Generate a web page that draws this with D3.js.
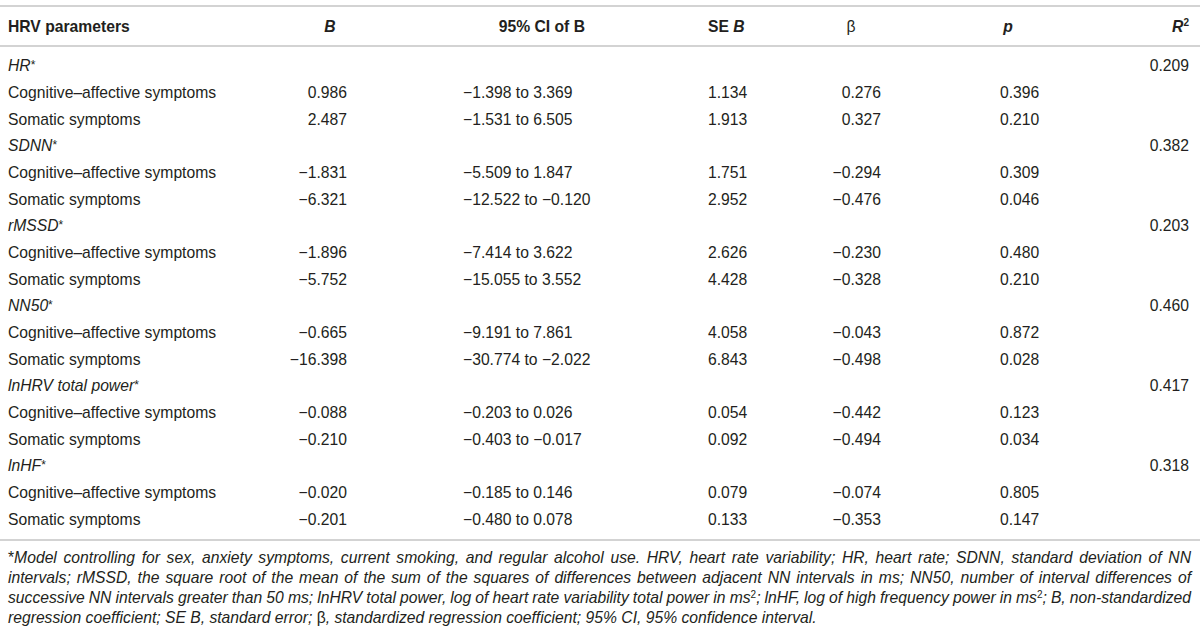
<!DOCTYPE html>
<html>
<head>
<meta charset="utf-8">
<script src="https://cdn.jsdelivr.net/npm/d3@7"></script>
<style>
  body { margin: 0; background: #fff; }
  svg text { font-family: "Liberation Sans", Arial, sans-serif; fill: #231f20; }
  .hdr { font-weight: bold; }
  .cell { font-size: 15.7px; }
  .note { font-size: 15.7px; font-style: italic; }
</style>
</head>
<body>
<div class="table-container"></div>
<script>
// table data
const groups = ['HR', 'SDNN', 'rMSSD', 'NN50', 'lnHRV total power', 'lnHF'];
const r2 = ['0.209', '0.382', '0.203', '0.460', '0.417', '0.318'];
const predictors = ['Cognitive–affective symptoms', 'Somatic symptoms'];
const bVals = ['0.986', '2.487', '−1.831', '−6.321', '−1.896', '−5.752', '−0.665', '−16.398', '−0.088', '−0.210', '−0.020', '−0.201'];
const ciLow = ['−1.398', '−1.531', '−5.509', '−12.522', '−7.414', '−15.055', '−9.191', '−30.774', '−0.203', '−0.403', '−0.185', '−0.480'];
const ciHigh = ['3.369', '6.505', '1.847', '−0.120', '3.622', '3.552', '7.861', '−2.022', '0.026', '−0.017', '0.146', '0.078'];
const seB = ['1.134', '1.913', '1.751', '2.952', '2.626', '4.428', '4.058', '6.843', '0.054', '0.092', '0.079', '0.133'];
const betaVals = ['0.276', '0.327', '−0.294', '−0.476', '−0.230', '−0.328', '−0.043', '−0.498', '−0.442', '−0.494', '−0.074', '−0.353'];
const pVals = ['0.396', '0.210', '0.309', '0.046', '0.480', '0.210', '0.872', '0.028', '0.123', '0.034', '0.805', '0.147'];
const noteLines = [
  [{t: '*', it: false}, {t: 'Model controlling for sex, anxiety symptoms, current smoking, and regular alcohol use. HRV, heart rate variability; HR, heart rate; SDNN, standard deviation of NN'}],
  [{t: 'intervals; rMSSD, the square root of the mean of the sum of the squares of differences between adjacent NN intervals in ms; NN50, number of interval differences of'}],
  [{t: 'successive NN intervals greater than 50 ms; lnHRV total power, log of heart rate variability total power in ms'}, {t: '2', sup: true}, {t: '; lnHF, log of high frequency power in ms'}, {t: '2', sup: true}, {t: '; B, non-standardized'}],
  [{t: 'regression coefficient; SE B, standard error; '}, {t: 'β', it: false}, {t: ', standardized regression coefficient; 95% CI, 95% confidence interval.'}]
];

// build row list: group header row followed by its two predictor rows
const rows = [];
groups.forEach((g, gi) => {
  rows.push({type: 'group', label: g, r2: r2[gi]});
  predictors.forEach((p, pi) => {
    const k = gi * 2 + pi;
    rows.push({type: 'item', label: p, b: bVals[k], ci: `${ciLow[k]} to ${ciHigh[k]}`,
      se: seB[k], beta: betaVals[k], p: pVals[k]});
  });
});

const svg_width = 1200, svg_height = 634;
const svg = d3.select('.table-container').append('svg')
  .attr('width', svg_width).attr('height', svg_height);

const yScale = d3.scaleBand().domain(d3.range(rows.length)).range([53, 533]);
const yc = i => yScale(i) + yScale.bandwidth() / 2;

// column anchors
const cols = [
  {key: 'label', x: 8, anchor: 'start'},
  {key: 'b', x: 347, anchor: 'end'},
  {key: 'ci', x: 463, anchor: 'start'},
  {key: 'se', x: 708, anchor: 'start'},
  {key: 'beta', x: 881, anchor: 'end'},
  {key: 'p', x: 1000, anchor: 'start'},
  {key: 'r2', x: 1189, anchor: 'end'}
];
const colX = d3.scaleOrdinal().domain(cols.map(c => c.key)).range(cols.map(c => c.x));
const colA = d3.scaleOrdinal().domain(cols.map(c => c.key)).range(cols.map(c => c.anchor));

// rules
const rule = y => svg.append('line').attr('x1', 0).attr('x2', svg_width)
  .attr('y1', y).attr('y2', y).attr('stroke', '#c4c4c4').attr('stroke-width', 1.6);
rule(6); rule(46); rule(540);

// header
const hy = 32;
const hdr = svg.append('g').attr('class', 'hdr cell');
hdr.append('text').attr('x', 8).attr('y', hy).text('HRV parameters');
hdr.append('text').attr('x', 330).attr('y', hy).attr('text-anchor', 'middle').style('font-style', 'italic').text('B');
hdr.append('text').attr('x', 585).attr('y', hy).attr('text-anchor', 'end').text('95% CI of B');
const seh = hdr.append('text').attr('x', 708).attr('y', hy);
seh.append('tspan').text('SE ');
seh.append('tspan').style('font-style', 'italic').text('B');
hdr.append('text').attr('x', 851).attr('y', hy).attr('text-anchor', 'middle').style('font-weight', 'normal').text('β');
hdr.append('text').attr('x', 1008).attr('y', hy).attr('text-anchor', 'middle').style('font-style', 'italic').text('p');
const r2h = hdr.append('text').attr('x', 1189).attr('y', hy).attr('text-anchor', 'end');
r2h.append('tspan').style('font-style', 'italic').text('R');
r2h.append('tspan').attr('dy', -6).style('font-size', '10px').text('2');

// body
const body = svg.append('g').attr('class', 'cell');
rows.forEach((r, i) => {
  const y = yc(i) + 5;
  if (r.type === 'group') {
    const t = body.append('text').attr('x', colX('label')).attr('y', y);
    t.append('tspan').style('font-style', 'italic').text(r.label);
    t.append('tspan').text('*').style('font-size', '12px').attr('dy', -2);
    body.append('text').attr('x', colX('r2')).attr('y', y).attr('text-anchor', colA('r2')).text(r.r2);
  } else {
    ['label', 'b', 'ci', 'se', 'beta', 'p'].forEach(k => {
      body.append('text').attr('x', colX(k)).attr('y', y)
        .attr('text-anchor', colA(k)).text(r[k]);
    });
  }
});

// footnote, justified lines
const noteY = [563, 583, 603, 623];
const noteLeft = 8, noteRight = 1191;
noteLines.forEach((parts, li) => {
  const t = svg.append('text').attr('class', 'note').attr('x', noteLeft).attr('y', noteY[li]);
  let raised = false;
  parts.forEach(p => {
    const ts = t.append('tspan').text(p.t);
    if (p.it === false) ts.style('font-style', 'normal');
    if (p.sup) {
      ts.attr('dy', -5).style('font-size', '10px').style('font-style', 'normal');
      raised = true;
    } else if (raised) {
      ts.attr('dy', 5);
      raised = false;
    }
  });
  if (li < noteLines.length - 1) {
    const w = t.node().getComputedTextLength();
    const spaces = (t.text().match(/ /g) || []).length;
    t.attr('word-spacing', (noteRight - noteLeft - w) / spaces);
  }
});
</script>
</body>
</html>
